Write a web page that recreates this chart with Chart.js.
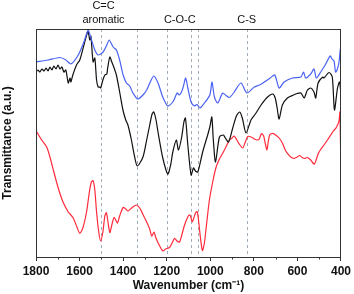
<!DOCTYPE html>
<html>
<head>
<meta charset="utf-8">
<script src="https://cdn.jsdelivr.net/npm/chart.js@4"></script>
<style>
html,body{margin:0;padding:0;background:#fff;}
canvas{display:block;}
</style>
</head>
<body>
<canvas id="c" width="354" height="294"></canvas>
<script>
// x: wavenumber (cm-1), y: transmittance (a.u.)
const blueSeries = [[1800,195],[1745,197],[1690,199.5],[1663,197],[1640,193],[1606,202],[1580,215],[1561,226.5],[1548,219],[1530,207],[1515,202],[1492,205],[1475,212],[1464,217],[1446,210],[1431,207],[1416,197],[1400,182],[1385,174],[1370,171],[1355,164],[1333,158],[1309,162],[1292,167],[1278,174],[1259,181],[1240,174],[1218,160],[1195,151],[1172,155],[1152,164],[1143,162],[1132,165],[1123,171],[1113,179],[1103,169],[1088,155],[1073,151],[1061,152.5],[1047,149],[1027,154],[1002,162],[992,175],[981,160],[966,154],[943,164],[928,161.5],[912,159.5],[890,165],[859,174],[832,164],[798,170],[774,172],[752,175],[725,179],[704,182],[684,169],[661,175],[623,179],[584,180],[572,185],[562,179],[539,183],[524,188],[513,179],[493,185],[470,193],[450,201],[441,198],[432,196],[425,185],[418,187],[409,195],[403,208],[400,197]];

const blackSeries = [[1800,185],[1791,187],[1782,185],[1773,188],[1763,186],[1754,189],[1745,186],[1736,190],[1727,187],[1718,191],[1708,188],[1699,192],[1690,188],[1681,190],[1672,185],[1663,187],[1652,174],[1644,179],[1640,175],[1631,182],[1614,192],[1599,197],[1580,212],[1565,224],[1561,226],[1553,217],[1548,221],[1538,195],[1530,199],[1522,177],[1515,170],[1507,170],[1503,169],[1493,177],[1484,182],[1475,183],[1471,189],[1461,200],[1452,195],[1443,190],[1431,182],[1416,165],[1401,147],[1388,137],[1378,132],[1362,117],[1349,102],[1335,91],[1309,100],[1292,117],[1278,132],[1267,143],[1259,145],[1249,137],[1240,125],[1218,99],[1195,83],[1182,92],[1172,105],[1156,117],[1146,107],[1132,119],[1121,135],[1114,139],[1103,112],[1088,82],[1077,89],[1068,86],[1057,85],[1035,105],[1012,122],[1002,130],[993,140],[986,117],[976,95],[958,120],[940,122],[931,119],[916,115],[897,129],[880,141],[865,145],[853,139],[836,124],[813,137],[793,143],[767,152],[737,160],[713,163],[702,159],[693,149],[684,138],[669,152],[646,159],[618,162],[601,163.5],[584,164],[569,159],[554,167],[539,169],[524,165],[516,159],[505,174],[484,180],[478,179],[455,184.5],[440,180],[430,147],[416,169],[407,175],[402,167],[400,160]];

const redSeries = [[1800,126.5],[1774,117],[1751,110],[1736,100],[1718,85],[1698,69],[1676,55],[1652,45],[1640,42],[1629,39],[1612,30],[1599,23.7],[1585,29],[1568,45],[1555,65],[1546,75],[1538,76.3],[1530,67],[1522,45],[1512,25],[1503,16],[1493,25],[1484,41],[1477,44.3],[1471,37],[1461,24.5],[1452,32],[1442,39.5],[1434,37],[1426,34],[1416,41],[1400,49.5],[1388,48],[1378,46],[1361,49],[1339,52],[1324,49],[1310,43],[1294,36],[1278,28],[1269,21],[1258,25],[1251,20],[1237,13],[1218,6],[1205,8],[1187,9.5],[1173,15],[1164,18.7],[1153,16],[1141,15],[1132,21],[1118,32],[1101,41],[1093,42],[1082,35.3],[1068,44],[1060,45.3],[1053,35],[1045,19],[1036,6.5],[1027,14],[1018,31],[1004,57],[987,77],[973,90],[958,98],[943,103.7],[928,110],[912,117],[900,119],[890,121],[878,117],[867,113],[851,109],[839,115],[828,120.5],[812,120],[798,118],[784,117],[775,118],[765,123.5],[755,121],[748,114],[740,107],[734,115],[727,122],[713,123.7],[697,121.5],[682,118.5],[668,113.5],[656,107],[646,103.7],[631,100],[615,98.7],[601,100],[590,101.5],[578,99.5],[567,98.5],[556,99.5],[539,97],[529,94],[522,93],[514,97],[505,103],[492,108],[478,112],[462,117],[447,122],[435,126],[424,128.7],[416,132],[409,136],[405,145],[403,122],[401,99]];

const tickLabels = [1800, 1600, 1400, 1200, 1000, 800, 600, 400];
const minorTicks = [1700, 1500, 1300, 1100, 900, 700, 500];
const markerWavenumbers = [1500, 1335, 1200, 1090, 1057, 833];
const bandLabels = [
  {wn: 1490, lines: ['C=C', 'aromatic']},
  {wn: 1140, lines: ['C-O-C']},
  {wn: 833, lines: ['C-S']}
];

const toXY = s => s.map(p => ({x: p[0], y: p[1]}));

const framePlugin = {
  id: 'frame',
  beforeDatasetsDraw(chart) {
    const {ctx, chartArea: a, scales: {x}} = chart;
    ctx.save();
    ctx.strokeStyle = '#a3adb8';
    ctx.lineWidth = 1;
    ctx.setLineDash([3, 3]);
    markerWavenumbers.forEach(w => {
      const px = Math.round(x.getPixelForValue(w)) + 0.5;
      ctx.beginPath();
      ctx.moveTo(px, a.top);
      ctx.lineTo(px, a.bottom);
      ctx.stroke();
    });
    ctx.restore();
  },
  afterDraw(chart) {
    const {ctx, chartArea: a, scales: {x}} = chart;
    ctx.save();
    ctx.strokeStyle = '#333';
    ctx.lineWidth = 1;
    ctx.strokeRect(Math.round(a.left) + 0.5, Math.round(a.top) + 0.5,
                   Math.round(a.right - a.left) - 1, Math.round(a.bottom - a.top));
    ctx.beginPath();
    minorTicks.forEach(w => {
      const px = Math.round(x.getPixelForValue(w)) + 0.5;
      ctx.moveTo(px, Math.round(a.bottom));
      ctx.lineTo(px, Math.round(a.bottom) + 2.5);
    });
    ctx.stroke();
    ctx.fillStyle = '#111';
    ctx.font = '11px "Liberation Sans", Arial, sans-serif';
    ctx.textAlign = 'center';
    ctx.textBaseline = 'middle';
    bandLabels.forEach(b => {
      const px = x.getPixelForValue(b.wn);
      if (b.lines.length === 2) {
        ctx.fillText(b.lines[0], px, 6);
        ctx.fillText(b.lines[1], px, 19.5);
      } else {
        ctx.fillText(b.lines[0], px, 19.5);
      }
    });
    ctx.restore();
  }
};

const common = {pointRadius: 0, borderWidth: 1.2, tension: 0.25, fill: false};

new Chart(document.getElementById('c'), {
  type: 'line',
  data: {
    datasets: [
      Object.assign({data: toXY(blueSeries), borderColor: '#4a62f2'}, common),
      Object.assign({data: toXY(blackSeries), borderColor: '#111111'}, common),
      Object.assign({data: toXY(redSeries), borderColor: '#ff2b3c'}, common)
    ]
  },
  options: {
    responsive: false,
    animation: false,
    devicePixelRatio: 1,
    layout: {padding: {top: 29, right: 12, left: 0, bottom: 0}},
    plugins: {legend: {display: false}, tooltip: {enabled: false}},
    scales: {
      x: {
        type: 'linear',
        min: 400, max: 1800, reverse: true,
        afterFit: s => { s.height = 37; },
        afterBuildTicks: s => { s.ticks = tickLabels.map(v => ({value: v})); },
        grid: {display: true, drawOnChartArea: false, drawTicks: true, tickLength: 4, color: '#333'},
        border: {display: false},
        ticks: {
          autoSkip: false, maxRotation: 0, padding: 3,
          color: '#111',
          font: {family: '"Liberation Sans", Arial, sans-serif', size: 12, weight: 'bold'},
          callback: v => String(v)
        },
        title: {
          display: true, text: 'Wavenumber (cm\u207B\u00B9)', color: '#111',
          font: {family: '"Liberation Sans", Arial, sans-serif', size: 12, weight: 'bold'},
          padding: {top: 0, bottom: 1}
        }
      },
      y: {
        min: 0, max: 228,
        afterFit: s => { s.width = 36; },
        grid: {display: false},
        border: {display: false},
        ticks: {display: false},
        title: {
          display: true, text: 'Transmittance (a.u.)', color: '#111',
          font: {family: '"Liberation Sans", Arial, sans-serif', size: 12, weight: 'bold'},
          padding: {top: 0, bottom: 0}
        }
      }
    }
  },
  plugins: [framePlugin]
});
</script>
</body>
</html>
